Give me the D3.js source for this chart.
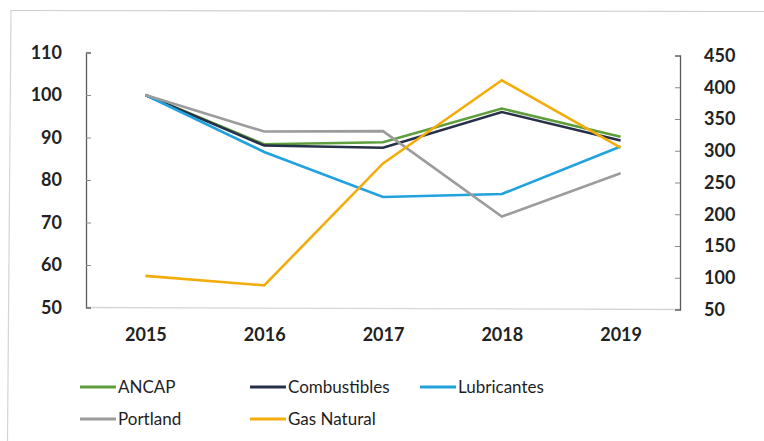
<!DOCTYPE html>
<html>
<head>
<meta charset="utf-8">
<script src="https://cdn.jsdelivr.net/npm/d3@7"></script>
<style>
  html, body { margin: 0; padding: 0; background: #fff; }
  svg { display: block; }
</style>
</head>
<body>
<svg id="chart" width="764" height="441"></svg>
<script>
// Index series (left axis, base 2015 = 100) and Gas Natural (right axis)
const years = ["2015", "2016", "2017", "2018", "2019"];
const ancap        = [100, 88.4, 88.9, 96.8, 90.2];
const combustibles = [100, 88.1, 87.6, 96.0, 89.3];
const lubricantes  = [100, 86.6, 76.0, 76.7, 87.9];
const portland     = [100, 91.4, 91.5, 71.4, 81.6];
const gasNatural   = [103, 88, 280, 411, 305];

const leftTicks  = [50, 60, 70, 80, 90, 100, 110];
const rightTicks = [50, 100, 150, 200, 250, 300, 350, 400, 450];

const series = [
  { name: "ANCAP",        values: ancap,        color: "#5f9e3c", axis: "left"  },
  { name: "Combustibles", values: combustibles, color: "#263049", axis: "left"  },
  { name: "Lubricantes",  values: lubricantes,  color: "#22a2dc", axis: "left"  },
  { name: "Portland",     values: portland,     color: "#9c9c9c", axis: "left"  },
  { name: "Gas Natural",  values: gasNatural,   color: "#f3ac0c", axis: "right" }
];

const svg = d3.select("#chart");
const tickFont = "Lato, 'Open Sans', sans-serif";

// outer frame
svg.append("line").attr("x1", 11).attr("y1", 10.5).attr("x2", 764).attr("y2", 11.5)
  .attr("stroke", "#cfcfcf").attr("stroke-width", 1.2);
svg.append("line").attr("x1", 11).attr("y1", 10).attr("x2", 7.5).attr("y2", 441)
  .attr("stroke", "#d4d4d4").attr("stroke-width", 1.2);

const x = d3.scalePoint().domain(years).range([86, 680]).padding(0.5);
const yL = d3.scaleLinear().domain([50, 110]).range([307.5, 52.5]);
const yR = d3.scaleLinear().domain([50, 450]).range([309.5, 55.5]);

// x baseline
svg.append("line")
  .attr("x1", 86).attr("y1", yL(50))
  .attr("x2", 680).attr("y2", yR(50))
  .attr("stroke", "#d6d6d6").attr("stroke-width", 1.3);

// left axis
const gL = svg.append("g").attr("transform", "translate(86,0)")
  .call(d3.axisLeft(yL).tickValues(leftTicks).tickSizeInner(-5).tickSizeOuter(-5).tickPadding(24));
// right axis
const gR = svg.append("g").attr("transform", "translate(680,0)")
  .call(d3.axisRight(yR).tickValues(rightTicks).tickSizeInner(-5).tickSizeOuter(-5).tickPadding(24));

[gL, gR].forEach(g => {
  g.select(".domain").attr("stroke", "#5a5a5a").attr("stroke-width", 1.3);
  g.selectAll(".tick line").attr("stroke", "#8a8a8a").attr("stroke-width", 1);
  g.selectAll(".tick text")
    .attr("fill", "#222")
    .style("font-family", tickFont)
    .style("font-weight", "bold")
    .style("font-size", "18px");
});

// category labels
const gX = svg.append("g").attr("transform", "translate(0,308)")
  .call(d3.axisBottom(x).tickSize(0).tickPadding(20));
gX.select(".domain").remove();
gX.selectAll(".tick text")
  .attr("fill", "#222")
  .style("font-family", tickFont)
  .style("font-weight", "bold")
  .style("font-size", "18px");

// lines
series.forEach(s => {
  const y = s.axis === "left" ? yL : yR;
  const line = d3.line().x((d, i) => x(years[i])).y(d => y(d));
  svg.append("path")
    .datum(s.values)
    .attr("d", line)
    .attr("fill", "none")
    .attr("stroke", s.color)
    .attr("stroke-width", 2.6)
    .attr("stroke-linejoin", "miter");
});

// legend
const legendPos = [
  { x: 80,  y: 387 }, { x: 250, y: 387 }, { x: 420, y: 387 },
  { x: 80,  y: 419 }, { x: 250, y: 419 }
];
series.forEach((s, i) => {
  const p = legendPos[i];
  const g = svg.append("g").attr("transform", `translate(${p.x},${p.y})`);
  g.append("line").attr("x1", 0).attr("x2", 36).attr("y1", 0).attr("y2", 0)
    .attr("stroke", s.color).attr("stroke-width", 3);
  g.append("text").attr("x", 38).attr("y", 0).attr("dy", "0.35em")
    .attr("fill", "#1e1e1e")
    .style("font-family", tickFont)
    .style("font-size", "17px")
    .text(s.name);
});
</script>
</body>
</html>
